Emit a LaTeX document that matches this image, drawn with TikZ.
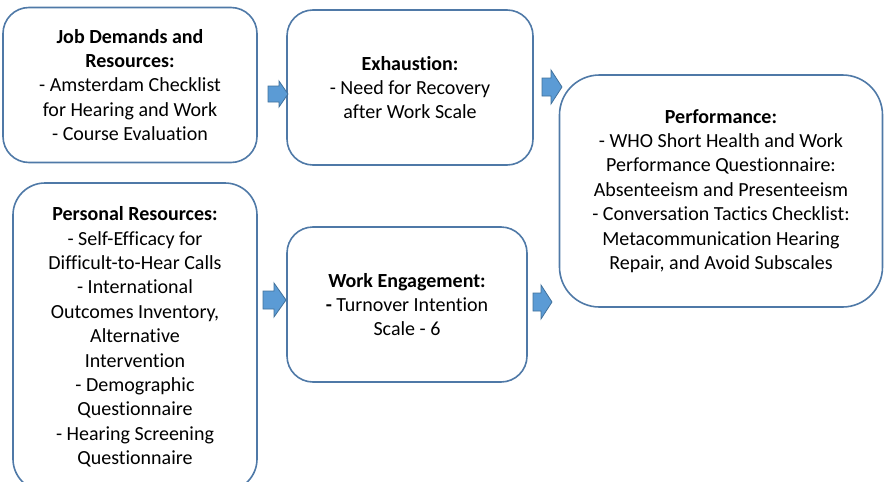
\documentclass[tikz,border=0pt]{standalone}
\usepackage{fontspec}
\setmainfont{Carlito}[RawFeature={-liga;-clig;-calt}]
\definecolor{boxline}{HTML}{4F79A7}
\definecolor{arrfill}{HTML}{5B9BD5}
\definecolor{arrline}{HTML}{41719C}
\newcommand\blkarrow[6]{%
  \draw[arrowshape] (#1,#3-#4) -- (#2-#6,#3-#4) -- (#2-#6,#3-#5) -- (#2,#3)
    -- (#2-#6,#3+#5) -- (#2-#6,#3+#4) -- (#1,#3+#4) -- cycle;}
\begin{document}
\begin{tikzpicture}[x=1pt,y=-1pt,
  boxstyle/.style={draw=boxline, line width=1.6pt, rounded corners=26pt, align=center,
    inner sep=0pt, font=\fontsize{20}{24.4}\selectfont},
  arrowshape/.style={draw=arrline, fill=arrfill, line width=0.8pt}]
\useasboundingbox (0,0) rectangle (884,482);
\clip (0,0) rectangle (884,482);
\node[boxstyle, minimum width=254pt, minimum height=155pt] (jdr) at (130,85)
  {\textbf{Job Demands and}\\\textbf{Resources:}\\- Amsterdam Checklist\\for Hearing and Work\\- Course Evaluation};
\node[boxstyle, minimum width=246pt, minimum height=155pt] (exh) at (410,87.5)
  {\textbf{Exhaustion:}\\- Need for Recovery\\after Work Scale};
\node[boxstyle, rounded corners=32pt, minimum width=244pt, minimum height=308pt] (pers) at (135,337)
  {\textbf{Personal Resources:}\\- Self-Efficacy for\\Difficult-to-Hear Calls\\- International\\Outcomes Inventory,\\Alternative\\Intervention\\- Demographic\\Questionnaire\\- Hearing Screening\\Questionnaire};
\node[boxstyle, minimum width=240pt, minimum height=155pt] (eng) at (407,304.5)
  {\textbf{Work Engagement:}\\\textbf{-} Turnover Intention\\Scale - 6};
\node[boxstyle, rounded corners=40pt, minimum width=323pt, minimum height=232pt] (perf) at (721,191)
  {\textbf{Performance:}\\- WHO Short Health and Work\\Performance Questionnaire:\\Absenteeism and Presenteeism\\- Conversation Tactics Checklist:\\Metacommunication Hearing\\Repair, and Avoid Subscales};
\blkarrow{268}{288}{94}{8}{13}{9}
\blkarrow{542}{562}{87}{9}{17}{11}
\blkarrow{263}{286}{300}{9}{17}{12}
\blkarrow{533}{552}{302}{9}{17}{11}
\end{tikzpicture}
\end{document}
